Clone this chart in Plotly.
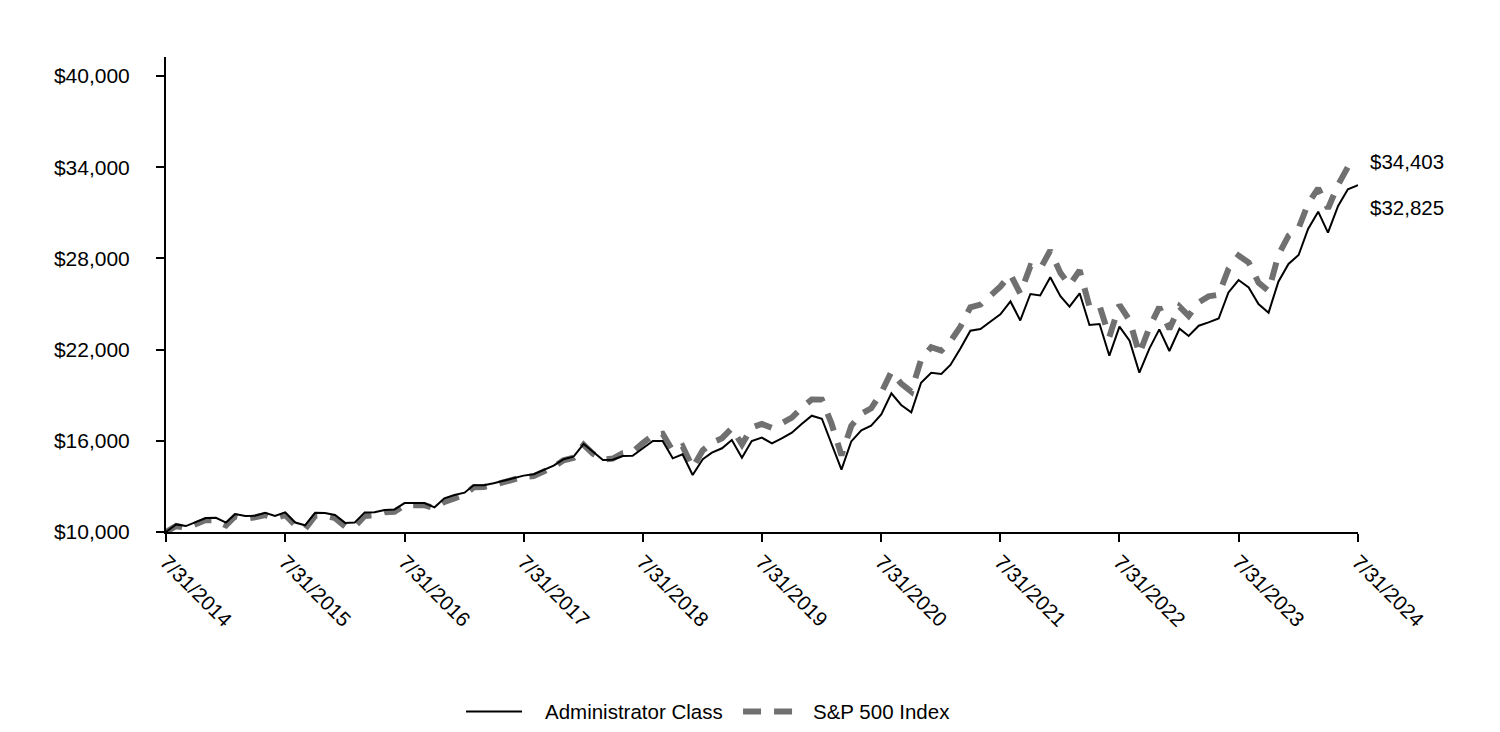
import pandas as pd
import plotly.graph_objects as go

# Monthly month-end dates 7/31/2014 .. 7/31/2024
dates = pd.date_range("2014-07-31", periods=121, freq="ME")

admin_class = [
    10000, 10500, 10390, 10650, 10920, 10930, 10620, 11180, 11050, 11070, 11260, 11050,
    11290, 10620, 10440, 11260, 11250, 11120, 10600, 10620, 11290, 11300, 11440, 11480,
    11900, 11910, 11900, 11623, 12215, 12434, 12588, 13072, 13080, 13204, 13380, 13512,
    13709, 13797, 14060, 14363, 14783, 14955, 15790, 15284, 14737, 14750, 15000, 15010,
    15507, 15987, 15990, 14846, 15109, 13750, 14783, 15219, 15507, 16053, 14890, 15987,
    16206, 15836, 16163, 16535, 17105, 17653, 17450, 15880, 14100, 15960, 16690, 16995,
    17730, 19125, 18355, 17873, 19823, 20481, 20395, 20987, 22085, 23243, 23355, 23836,
    24322, 25170, 23920, 25658, 25560, 26756, 25510, 24823, 25704, 23618, 23684, 21600,
    23508, 22586, 20481, 22085, 23333, 21908, 23377, 22895, 23574, 23793, 24045, 25760,
    26579, 26090, 25000, 24430, 26470, 27632, 28224, 29934, 31075, 29691, 31448, 32547,
    32825,
]

sp500 = [
    10000, 10400, 10254, 10504, 10787, 10760, 10437, 11037, 10863, 10967, 11108, 10893,
    11122, 10451, 10193, 11053, 11086, 10911, 10370, 10356, 11058, 11101, 11301, 11330,
    11748, 11765, 11767, 11553, 11980, 12217, 12449, 12943, 12959, 13092, 13277, 13359,
    13634, 13676, 13958, 14283, 14722, 14885, 15738, 15157, 14772, 14828, 15185, 15279,
    15848, 16365, 16458, 15332, 15645, 14232, 15372, 15866, 16174, 16829, 15760, 16871,
    17114, 16844, 17159, 17531, 18168, 18717, 18710, 17170, 15049, 16978, 17786, 18140,
    19163, 20541, 19760, 19234, 21340, 22160, 21936, 22542, 23529, 24786, 24959, 25541,
    26148, 26943, 25690, 27491, 27301, 28524, 27049, 26240, 27214, 24841, 24886, 22833,
    24938, 23921, 21718, 23477, 24790, 23362, 24829, 24223, 25112, 25504, 25613, 27306,
    28183, 27735, 26412, 25857, 28218, 29499, 29995, 31597, 32614, 31284, 32836, 34015,
    34403,
]

tick_dates = ["2014-07-31", "2015-07-31", "2016-07-31", "2017-07-31", "2018-07-31", "2019-07-31",
              "2020-07-31", "2021-07-31", "2022-07-31", "2023-07-31", "2024-07-31"]
tick_labels = ["7/31/2014", "7/31/2015", "7/31/2016", "7/31/2017", "7/31/2018", "7/31/2019",
               "7/31/2020", "7/31/2021", "7/31/2022", "7/31/2023", "7/31/2024"]
y_ticks = [10000, 16000, 22000, 28000, 34000, 40000]
y_labels = ["$10,000", "$16,000", "$22,000", "$28,000", "$34,000", "$40,000"]

FONT = "Liberation Sans, Arial, sans-serif"
FS = 20.5
GRAY = "#707070"
DASH = "18px,13px"

fig = go.Figure()
fig.add_trace(go.Scatter(
    x=dates, y=sp500, mode="lines", name="S&P 500 Index",
    line=dict(color=GRAY, width=6, dash=DASH),
    showlegend=False,
))
fig.add_trace(go.Scatter(
    x=dates, y=admin_class, mode="lines", name="Administrator Class",
    line=dict(color="#000000", width=2),
    showlegend=False,
))

# end-value labels
fig.add_annotation(x=dates[-1], y=sp500[-1], text="$34,403", showarrow=False,
                   xanchor="left", yanchor="middle", xshift=10,
                   font=dict(size=FS, color="black", family=FONT))
fig.add_annotation(x=dates[-1], y=admin_class[-1], text="$32,825", showarrow=False,
                   xanchor="left", yanchor="middle", xshift=10, yshift=-22,
                   font=dict(size=FS, color="black", family=FONT))

# legend (drawn below the plot)
LEG_Y = -0.378
fig.add_shape(type="line", xref="paper", yref="paper", x0=0.2517, x1=0.2987, y0=LEG_Y, y1=LEG_Y,
              line=dict(color="black", width=2))
fig.add_annotation(xref="paper", yref="paper", x=0.317, y=LEG_Y, text="Administrator Class",
                   showarrow=False, xanchor="left", yanchor="middle", borderpad=0,
                   font=dict(size=FS, color="black", family=FONT))
fig.add_shape(type="line", xref="paper", yref="paper", x0=0.4841, x1=0.526, y0=LEG_Y, y1=LEG_Y,
              line=dict(color=GRAY, width=6, dash=DASH))
fig.add_annotation(xref="paper", yref="paper", x=0.5419, y=LEG_Y, text="S&P 500 Index",
                   showarrow=False, xanchor="left", yanchor="middle", borderpad=0,
                   font=dict(size=FS, color="black", family=FONT))

fig.update_layout(
    width=1484, height=716,
    paper_bgcolor="white", plot_bgcolor="white",
    margin=dict(l=158, r=134, t=49, b=192, autoexpand=False),
    font=dict(family=FONT, size=FS, color="black"),
    showlegend=False,
)
fig.update_xaxes(
    range=[dates[0], dates[-1]],
    tickvals=tick_dates, ticktext=tick_labels, tickangle=45,
    showline=True, linecolor="black", linewidth=2,
    ticks="outside", ticklen=8, tickwidth=2, tickcolor="black",
    ticklabelstandoff=0,
    showgrid=False, zeroline=False, automargin=False,
)
fig.update_yaxes(
    range=[10000, 41250],
    tickvals=y_ticks, ticktext=y_labels, tickfont=dict(size=21),
    showline=True, linecolor="black", linewidth=2,
    ticks="outside", ticklen=8, tickwidth=2, tickcolor="black",
    ticklabelstandoff=22,
    showgrid=False, zeroline=False, automargin=False,
)

fig.write_html("out.html")
